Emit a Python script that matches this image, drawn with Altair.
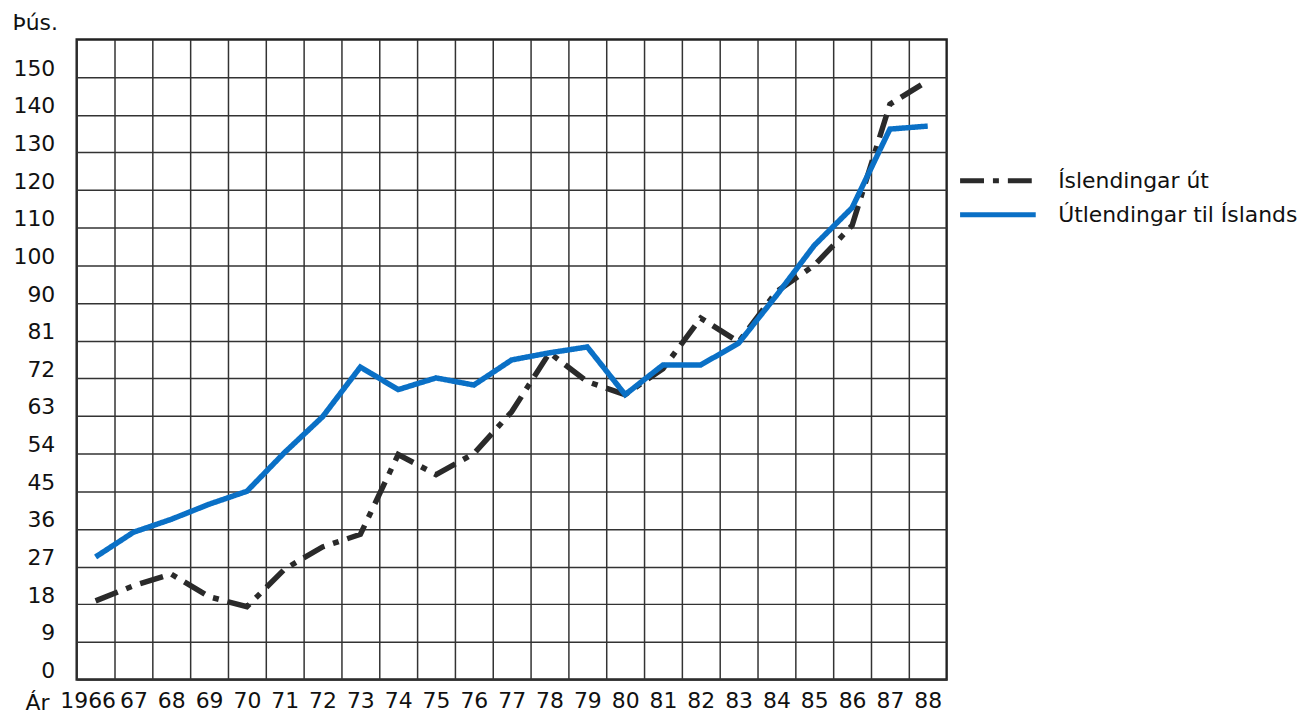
import altair as alt
import pandas as pd

# --- data (thousands of travellers) ---
years = list(range(1966, 1989))
series_names = ["Íslendingar út", "Útlendingar til Íslands"]
islendingar_ut = [18.8, 22.4, 25.2, 19.8, 17.4, 26.4, 31.7, 34.7, 53.8, 49.0, 54.0, 64.0,
                  78.1, 71.2, 68.1, 74.3, 86.4, 80.7, 93.0, 100.0, 110.6, 142.8, 149.0]
utlendingar = [29.3, 35.2, 38.3, 41.9, 45.0, 54.3, 62.8, 74.7, 69.3, 72.1, 70.4, 76.4,
               78.1, 79.5, 68.1, 75.2, 75.2, 80.4, 92.0, 105.3, 115.3, 136.2, 137.0]
y_ticks = [0, 9, 18, 27, 36, 45, 54, 63, 72, 81, 90, 100, 110, 120, 130, 140, 150]
x_grid = [y - 0.5 for y in years]

df = pd.DataFrame({
    "year": years * 2,
    "value": islendingar_ut + utlendingar,
    "series": [series_names[0]] * len(years) + [series_names[1]] * len(years),
})

W, H = 874, 643
step = H / 17.0
FONT = "DejaVu Sans"
TXT = "#111111"
GRID = "#333333"

legend = alt.Legend(
    title=None, orient="none", legendX=885, legendY=127,
    symbolType="stroke", symbolSize=5776, symbolStrokeWidth=5,
    clipHeight=30, rowPadding=4, labelFont=FONT, labelFontSize=22,
    labelColor=TXT, labelOffset=20, labelLimit=400, padding=0,
)

chart = alt.Chart(df).mark_line(strokeWidth=5.5, strokeCap="butt", strokeJoin="miter").encode(
    x=alt.X("year:Q",
            scale=alt.Scale(domain=[1965.5, 1988.5], nice=False, zero=False),
            axis=alt.Axis(values=x_grid, grid=True, gridColor=GRID, gridWidth=1.5, gridOpacity=1,
                          ticks=False, tickSize=0, domain=False,
                          labelExpr="datum.value < 1966 ? '1966' : slice(format(datum.value + 0.5, 'd'), 2)",
                          labelOffset={"condition": {"test": "datum.value < 1966", "value": 11}, "value": 19},
                          labelPadding=11, labelBaseline="top", labelFlush=False, labelOverlap=False,
                          labelFont=FONT, labelFontSize=22, labelColor=TXT,
                          title="Ár", titleX=-52, titleY=30, titleAlign="left",
                          titleBaseline="alphabetic", titleFontWeight="normal",
                          titleFont=FONT, titleFontSize=22, titleColor=TXT)),
    y=alt.Y("value:Q",
            scale=alt.Scale(domain=[0, 90, 160], range=[H, H - 10 * step, 0], nice=False, zero=False),
            axis=alt.Axis(values=y_ticks, grid=True, gridColor=GRID, gridWidth=1.5, gridOpacity=1,
                          ticks=False, tickSize=0, domain=False,
                          format="d", labelPadding=22, labelBaseline="alphabetic", labelOffset=-2,
                          labelFlush=False, labelOverlap=False,
                          labelFont=FONT, labelFontSize=22, labelColor=TXT,
                          title="Þús.", titleAngle=0, titleX=-65, titleY=-10, titleAlign="left",
                          titleBaseline="alphabetic", titleFontWeight="normal",
                          titleFont=FONT, titleFontSize=22, titleColor=TXT)),
    color=alt.Color("series:N", scale=alt.Scale(domain=series_names, range=["#2a2a2a", "#0a70c6"]),
                    legend=legend),
    strokeDash=alt.StrokeDash("series:N",
                              scale=alt.Scale(domain=series_names, range=[[24, 9, 6, 9], [1, 0]]),
                              legend=legend),
).properties(
    width=W, height=H,
    autosize=alt.AutoSizeParams(type="none"),
    padding={"left": 69, "top": 30, "right": 357, "bottom": 34},
).configure_view(
    stroke="#222222", strokeWidth=2.4,
)

chart.save("out.html", embed_options={"renderer": "svg", "actions": False})
